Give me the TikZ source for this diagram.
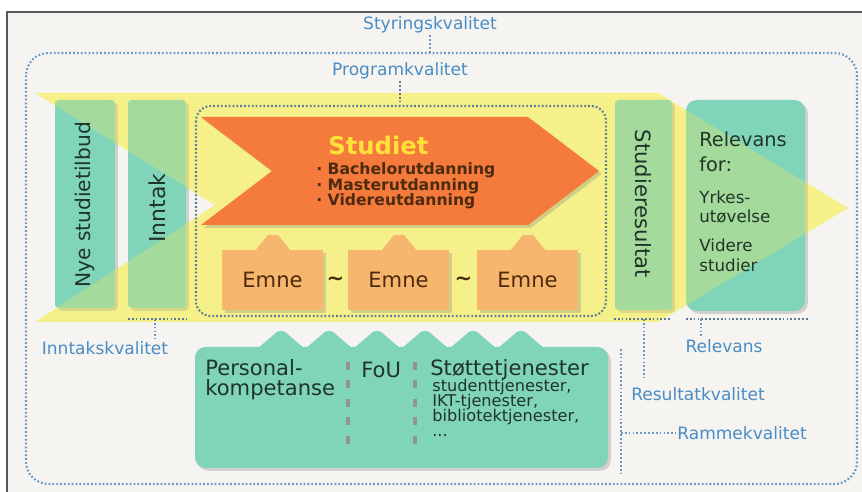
\documentclass[tikz,border=0pt]{standalone}
\usepackage{fontspec}
\setmainfont{DejaVu Sans}
\usetikzlibrary{positioning,shadows}

\definecolor{bgpaper}{HTML}{F5F4F0}
\definecolor{boxgreen}{HTML}{80D4B9}
\definecolor{paleyellow}{HTML}{F8F4A0}
\definecolor{tintyellow}{HTML}{F0E860}
\definecolor{studorange}{HTML}{F47B3B}
\definecolor{emneorange}{HTML}{F7B66D}
\definecolor{labelblue}{HTML}{4A8CC6}
\definecolor{dotblue}{HTML}{6A98C8}
\definecolor{dotgrey}{HTML}{5A7C92}
\definecolor{darkgreen}{HTML}{1F3529}
\definecolor{darkbrown}{HTML}{4E2A0E}
\definecolor{studyellow}{HTML}{FFE13A}

\newcommand\tightlines{\lineskiplimit=-6pt\relax}

\begin{document}
\begin{tikzpicture}[x=0.02cm,y=-0.02cm,
  lab/.style={text=labelblue,font=\fontsize{9.7}{11}\selectfont,inner sep=1pt},
  dotline/.style={dotblue,line width=1.2pt,dash pattern=on 1pt off 1.2pt},
  greydots/.style={dotgrey,line width=1.2pt,dash pattern=on 1pt off 1.2pt},
  softshadow/.style={drop shadow={shadow xshift=1.6pt,shadow yshift=-1.6pt,opacity=.3}},
  gbox/.style={fill=boxgreen,softshadow},
  gtext/.style={text=darkgreen,inner sep=0pt},
  sep/.style={draw=gray!85,line width=1.8pt,dash pattern=on 4.5pt off 6pt}]

\useasboundingbox (0,0) rectangle (862,492);
\fill[white] (0,0) rectangle (862,492);
\fill[bgpaper] (7,12) rectangle (862,492);
\draw[gray!70!black,line width=.6pt] (862,12) -- (7,12) -- (7,492);

% Styringskvalitet frame
\draw[dotline,rounded corners=0.45cm] (26,53) rectangle (857,484);

% the big yellow arrow
\fill[paleyellow] (35,93) -- (658,93) -- (848,208) -- (658,322) -- (35,322) -- (215,205) -- cycle;

% green columns
\fill[gbox,rounded corners=2pt] (55,100) rectangle (115,308);
\fill[gbox,rounded corners=2pt] (128,100) rectangle (186,308);
\fill[gbox,rounded corners=2pt] (615,100) rectangle (672,310);
\fill[gbox,rounded corners=6pt] (686,100) rectangle (805,311);
\fill[tintyellow,opacity=.33] (35,93) -- (658,93) -- (848,208) -- (658,322) -- (35,322) -- (215,205) -- cycle;

% Programkvalitet frame
\draw[greydots,rounded corners=0.3cm] (196,106) rectangle (606,316);

% Studiet
\fill[studorange,softshadow] (201,117) -- (528,117) -- (599,171) -- (528,225) -- (201,225) -- (272,171) -- cycle;
\node[anchor=west,text=studyellow,font=\bfseries\fontsize{13.8}{15}\selectfont,inner sep=0pt] (studiet) at (328,145) {Studiet};
\node[anchor=west,align=left,text=darkbrown,font=\bfseries\fontsize{8.9}{8.8}\selectfont\tightlines,inner sep=0pt] (grader) at (316,186)
  {· Bachelorutdanning\\· Masterutdanning\\· Videreutdanning};

% Emne boxes
\foreach \ex [count=\i] in {222,348,477} {
  \fill[emneorange,softshadow] (\ex,250) rectangle (\ex+101,310);
  \fill[emneorange] (\ex+33,251) -- (\ex+46,235) -- (\ex+56,235) -- (\ex+69,251) -- cycle;
  \node[text=darkbrown,font=\fontsize{12}{14}\selectfont] (emne\i) at (\ex+50.5,280) {Emne};
}
\node[text=darkbrown,font=\bfseries\fontsize{12}{14}\selectfont] (tilde1) at (335.5,281) {\textasciitilde};
\node[text=darkbrown,font=\bfseries\fontsize{12}{14}\selectfont] (tilde2) at (463.5,281) {\textasciitilde};

% Rammekvalitet box
\fill[gbox,rounded corners=6pt] (195,347) rectangle (608,468);
\foreach \px in {281,329,377,425,473,521}
  \fill[boxgreen,rounded corners=1.5pt] (\px-24,349) -- (\px-3,331) -- (\px+3,331) -- (\px+24,349) -- cycle;
\draw[sep] (348,362) -- (348,446);
\draw[sep] (415,362) -- (415,446);
\node[gtext,anchor=west,align=left,font=\fontsize{12}{11.5}\selectfont\tightlines] (personal) at (205,380) {Personal-\\kompetanse};
\node[gtext,anchor=west,font=\fontsize{12}{14}\selectfont] (fou) at (361,370) {FoU};
\node[gtext,anchor=west,font=\fontsize{12}{14}\selectfont] (stotte) at (430,370) {Støttetjenester};
\node[gtext,anchor=north west,align=left,font=\fontsize{9.2}{8.6}\selectfont\tightlines] (tjenester) at (432,379)
  {studenttjenester,\\IKT-tjenester,\\bibliotektjenester,\\...};

% column texts
\node[gtext,rotate=90,font=\fontsize{11.5}{13}\selectfont] (nye) at (85,205) {Nye studietilbud};
\node[gtext,rotate=90,font=\fontsize{12.5}{14}\selectfont] (inntak) at (157,208) {Inntak};
\node[gtext,rotate=-90,font=\fontsize{12}{14}\selectfont] (studres) at (643,204) {Studieresultat};
\node[gtext,anchor=west,align=left,font=\fontsize{11}{14}\selectfont] (relfor) at (699,152) {Relevans\\for:};
\node[gtext,anchor=west,align=left,font=\fontsize{9.5}{11.3}\selectfont] (yrke) at (699,207) {Yrkes-\\utøvelse};
\node[gtext,anchor=west,align=left,font=\fontsize{9.5}{11.3}\selectfont] (videre) at (699,255) {Videre\\studier};

% quality labels
\node[lab] (styring) at (430,25) {Styringskvalitet};
\node[lab] (program) at (400,71) {Programkvalitet};
\node[lab] (inntakk) at (105,348) {Inntakskvalitet};
\node[lab] (relevans) at (724,346) {Relevans};
\node[lab] (resultat) at (698,394) {Resultatkvalitet};
\node[lab] (ramme) at (742,433) {Rammekvalitet};

\coordinate (styringframe) at (430,53);
\coordinate (programframe) at (400,106);
\coordinate (inntakbr) at (155,319);
\coordinate (resultatbr) at (644,319);
\coordinate (relevansbr) at (701,319);
\coordinate (rammebr) at (621,433);

\draw[greydots] (128,319) -- (186,319);
\draw[greydots] (614,319) -- (671,319);
\draw[greydots] (686,319) -- (809,319);
\draw[dotline] (621,349) -- (621,476);

\draw[dotline] (styring) -- (styringframe);
\draw[greydots] (program) -- (programframe);
\draw[dotline] (inntakbr) -- (inntakbr |- inntakk.north);
\draw[dotline] (resultatbr) -- (644,378);
\draw[dotline] (relevansbr) -- (relevansbr |- relevans.north);
\draw[dotline] (rammebr) -- (ramme);

\end{tikzpicture}
\end{document}
